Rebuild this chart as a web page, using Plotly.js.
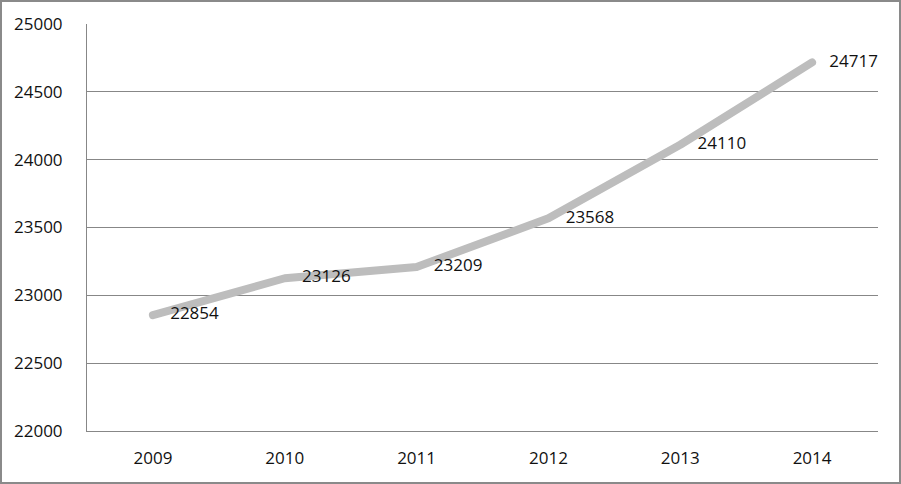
<!DOCTYPE html>
<html>
<head>
<meta charset="utf-8">
<script src="https://cdn.plot.ly/plotly-3.0.1.min.js"></script>
<style>
html,body{margin:0;padding:0;background:#fff;}
#wrap{position:relative;width:901px;height:484px;}
#chart{width:901px;height:484px;}
#frame{position:absolute;left:0;top:0;right:0;bottom:0;border:2px solid #8a8a8a;pointer-events:none;}
.scatterlayer path.js-line{stroke-linecap:round;stroke-linejoin:round;}
</style>
</head>
<body>
<div id="wrap"><div id="chart"></div><div id="frame"></div></div>
<script>
const years = ['2009','2010','2011','2012','2013','2014'];
const values = [22854, 23126, 23209, 23568, 24110, 24717];
const yTicks = [22000, 22500, 23000, 23500, 24000, 24500, 25000];

const trace = {
  x: years,
  y: values,
  type: 'scatter',
  mode: 'lines+markers+text',
  text: values.map(String),
  textposition: 'middle right',
  textfont: {family: 'Open Sans, sans-serif', size: 17, color: '#111111'},
  line: {color: '#bdbdbd', width: 8},
  marker: {size: 26, color: 'rgba(0,0,0,0)', line: {width: 0}},
  cliponaxis: false,
  hoverinfo: 'none'
};

const layout = {
  width: 901,
  height: 484,
  margin: {l: 87, r: 23, t: 24, b: 53},
  paper_bgcolor: '#ffffff',
  plot_bgcolor: '#ffffff',
  showlegend: false,
  font: {family: 'Open Sans, sans-serif', size: 17, color: '#111111'},
  xaxis: {
    type: 'category',
    range: [-0.5, 5.5],
    showgrid: false,
    showline: true,
    linecolor: '#878787',
    linewidth: 1,
    ticks: '',
    ticklabelstandoff: 12,
    fixedrange: true,
    mirror: false
  },
  yaxis: {
    range: [22000, 25000],
    tickvals: yTicks,
    ticktext: yTicks.map(String),
    showgrid: true,
    gridcolor: '#878787',
    gridwidth: 1,
    showline: true,
    linecolor: '#878787',
    linewidth: 1,
    ticks: '',
    ticklabelstandoff: 20,
    zeroline: false,
    fixedrange: true
  }
};

Plotly.newPlot('chart', [trace], layout, {staticPlot: true, displayModeBar: false});
</script>
</body>
</html>
